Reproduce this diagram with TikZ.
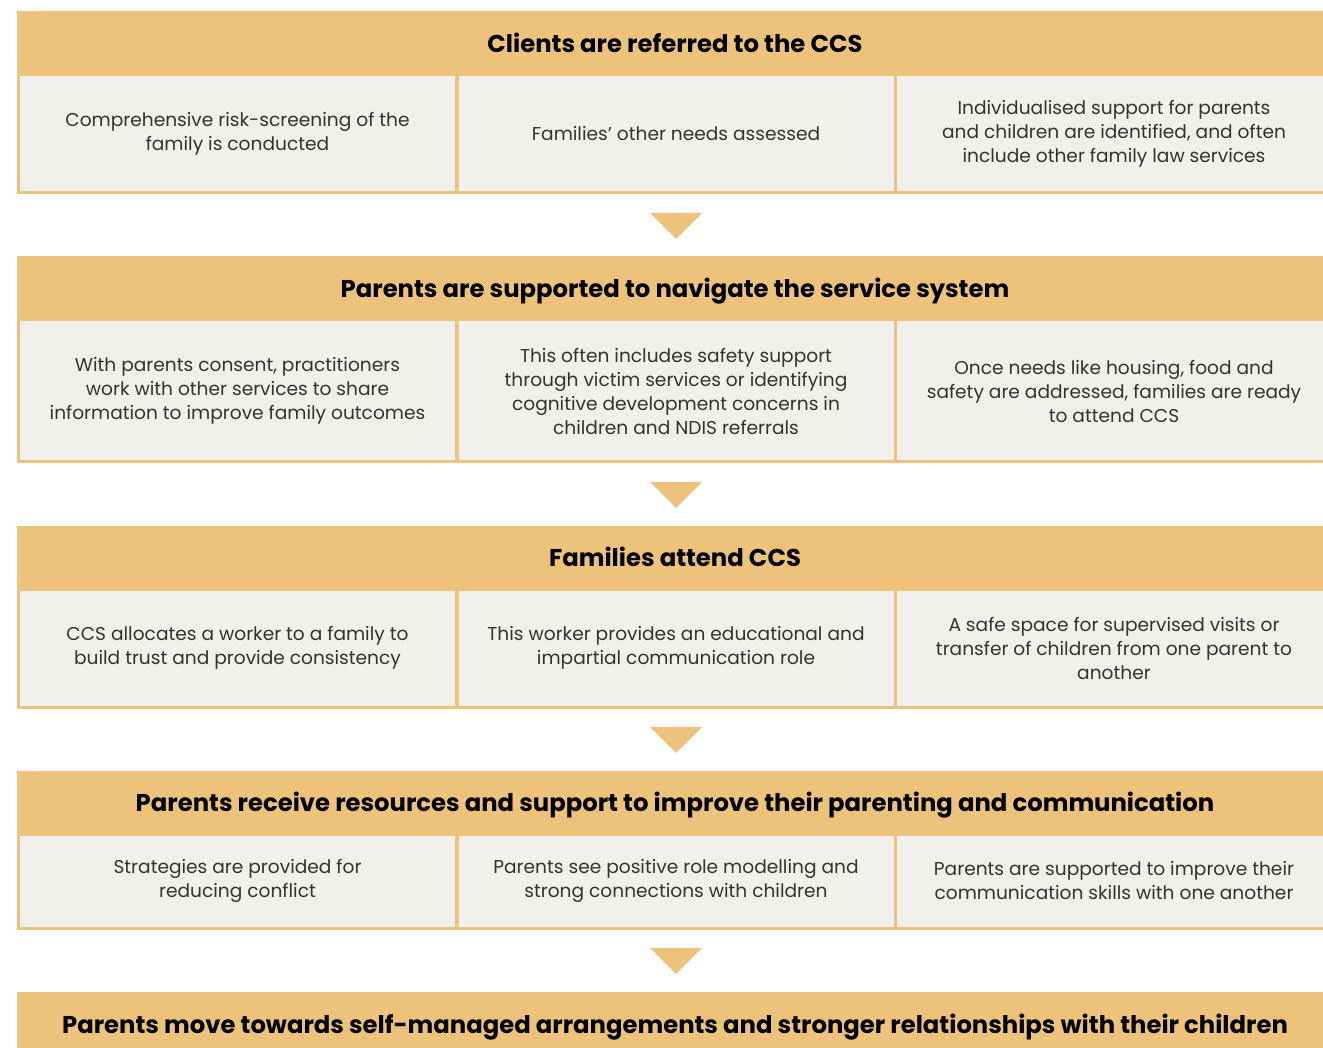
\documentclass[tikz,border=0pt]{standalone}
\usepackage{fontspec}
\setmainfont{Poppins}
\usetikzlibrary{calc}
\definecolor{hdr}{HTML}{EDC27B}
\definecolor{cellc}{HTML}{F1F0EC}
\definecolor{txt}{HTML}{333333}
\begin{document}
\begin{tikzpicture}[x=1pt,y=-1pt,
  hdrbox/.style={fill=hdr, draw=none, minimum width=1316pt, minimum height=63pt, inner sep=0pt, outer sep=0pt, anchor=north west, font=\bfseries\fontsize{24.3}{28}\selectfont, text=black, text depth=0pt},
  cellbox/.style={fill=cellc, draw=hdr, line width=3pt, minimum width=438pt, anchor=north west, inner sep=0pt, outer sep=0pt, align=center, font=\fontsize{18.6}{24}\selectfont, text=txt},
  arrowtri/.style={fill=hdr, draw=none}]
\useasboundingbox[fill=white] (0,0) rectangle (1323,1048);
\clip (0,0) rectangle (1323,1048);

% Block 1
\node[hdrbox] (h1) at (17,11.5) {Clients are referred to the CCS};
\node[cellbox, minimum height=118pt] (c11) at (18.5,75) {Comprehensive risk-screening of the\\family is conducted};
\node[cellbox, minimum height=118pt] (c12) at (457,75) {Families’ other needs assessed};
\node[cellbox, minimum height=118pt] (c13) at (895,75) {Individualised support for parents\\and children are identified, and often\\include other family law services};

% Block 2
\node[hdrbox] (h2) at (17,256.5) {Parents are supported to navigate the service system};
\node[cellbox, minimum height=142pt] (c21) at (18.5,320) {With parents consent, practitioners\\work with other services to share\\information to improve family outcomes};
\node[cellbox, minimum height=142pt] (c22) at (457,320) {This often includes safety support\\through victim services or identifying\\cognitive development concerns in\\children and NDIS referrals};
\node[cellbox, minimum height=142pt] (c23) at (895,320) {Once needs like housing, food and\\safety are addressed, families are ready\\to attend CCS};

% Block 3
\node[hdrbox] (h3) at (17,525.5) {Families attend CCS};
\node[cellbox, minimum height=118pt] (c31) at (18.5,589) {CCS allocates a worker to a family to\\build trust and provide consistency};
\node[cellbox, minimum height=118pt] (c32) at (457,589) {This worker provides an educational and\\impartial communication role};
\node[cellbox, minimum height=118pt] (c33) at (895,589) {A safe space for supervised visits or\\transfer of children from one parent to\\another};

% Block 4
\node[hdrbox] (h4) at (17,770.5) {Parents receive resources and support to improve their parenting and communication};
\node[cellbox, minimum height=94pt] (c41) at (18.5,834) {Strategies are provided for\\reducing conflict};
\node[cellbox, minimum height=94pt] (c42) at (457,834) {Parents see positive role modelling and\\strong connections with children};
\node[cellbox, minimum height=94pt] (c43) at (895,834) {Parents are supported to improve their\\communication skills with one another};

% Block 5
\node[hdrbox] (h5) at (17,992) {Parents move towards self-managed arrangements and stronger relationships with their children};

% Arrows
\foreach \a/\b in {c12/h2, c22/h3, c32/h4, c42/h5}{
  \path[arrowtri] ($(\a.south)+(-26,20)$) -- ($(\a.south)+(26,20)$) -- ($(\a.south)+(0,46)$) -- cycle;
}
\end{tikzpicture}
\end{document}
